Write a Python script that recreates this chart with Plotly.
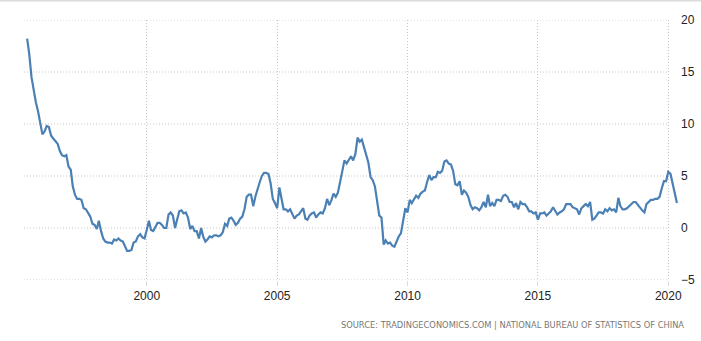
import plotly.graph_objects as go
import pandas as pd

# China consumer price inflation, year-on-year %, monthly from June 1995
start_month = "1995-06-01"
cpi_yoy = [
    # 1995 (Jun-Dec)
    18.2, 16.7, 14.5, 13.2, 12.1, 11.2, 10.1,
    # 1996
    9.0, 9.3, 9.8, 9.7, 8.9, 8.6, 8.3, 8.1, 7.4, 7.0, 6.9, 7.0,
    # 1997
    5.9, 5.6, 4.0, 3.2, 2.8, 2.8, 2.7, 1.9, 1.8, 1.5, 1.1, 0.4,
    # 1998
    0.3, -0.1, 0.7, -0.3, -1.0, -1.3, -1.4, -1.4, -1.5, -1.1, -1.2, -1.0,
    # 1999
    -1.2, -1.3, -1.8, -2.2, -2.2, -2.1, -1.4, -1.3, -0.8, -0.6, -0.9, -1.0,
    # 2000
    -0.2, 0.7, -0.2, -0.3, 0.1, 0.5, 0.5, 0.3, 0.0, 0.0, 1.3, 1.5,
    # 2001
    1.2, 0.0, 0.8, 1.6, 1.7, 1.4, 1.5, 1.0, -0.1, 0.2, -0.3, -0.3,
    # 2002
    -1.0, 0.0, -0.8, -1.3, -1.1, -0.8, -0.9, -0.7, -0.7, -0.8, -0.7, -0.4,
    # 2003
    0.4, 0.2, 0.9, 1.0, 0.7, 0.3, 0.5, 0.9, 1.1, 1.8, 3.0, 3.2,
    # 2004
    3.2, 2.1, 3.0, 3.8, 4.4, 5.0, 5.3, 5.3, 5.2, 4.3, 2.8, 2.4,
    # 2005
    1.9, 3.9, 2.7, 1.8, 1.8, 1.6, 1.8, 1.3, 0.9, 1.2, 1.3, 1.6,
    # 2006
    1.9, 0.9, 0.8, 1.2, 1.4, 1.5, 1.0, 1.3, 1.5, 1.4, 1.9, 2.8,
    # 2007
    2.2, 2.7, 3.3, 3.0, 3.4, 4.4, 5.6, 6.5, 6.2, 6.5, 6.9, 6.5,
    # 2008
    7.1, 8.7, 8.3, 8.5, 7.7, 7.1, 6.3, 4.9, 4.6, 4.0, 2.4, 1.2,
    # 2009
    1.0, -1.6, -1.2, -1.5, -1.4, -1.7, -1.8, -1.2, -0.8, -0.5, 0.6, 1.9,
    # 2010
    1.5, 2.7, 2.4, 2.8, 3.1, 2.9, 3.3, 3.5, 3.6, 4.4, 5.1, 4.6,
    # 2011
    4.9, 4.9, 5.4, 5.3, 5.5, 6.4, 6.5, 6.2, 6.1, 5.5, 4.2, 4.1,
    # 2012
    4.5, 3.2, 3.6, 3.4, 3.0, 2.2, 1.8, 2.0, 1.9, 1.7, 2.0, 2.5,
    # 2013
    2.0, 3.2, 2.1, 2.4, 2.1, 2.7, 2.7, 2.6, 3.1, 3.2, 3.0, 2.5,
    # 2014
    2.5, 2.0, 2.4, 1.8, 2.5, 2.3, 2.3, 2.0, 1.6, 1.6, 1.4, 1.5,
    # 2015
    0.8, 1.4, 1.4, 1.5, 1.2, 1.4, 1.6, 2.0, 1.6, 1.3, 1.5, 1.6,
    # 2016
    1.8, 2.3, 2.3, 2.3, 2.0, 1.9, 1.8, 1.3, 1.9, 2.1, 2.3, 2.1,
    # 2017
    2.5, 0.8, 0.9, 1.2, 1.5, 1.5, 1.4, 1.8, 1.6, 1.9, 1.7, 1.8,
    # 2018
    1.5, 2.9, 2.1, 1.8, 1.8, 1.9, 2.1, 2.3, 2.5, 2.5, 2.2, 1.9,
    # 2019
    1.7, 1.5, 2.3, 2.5, 2.7, 2.7, 2.8, 2.8, 3.0, 3.8, 4.5, 4.5,
    # 2020 (Jan-May)
    5.4, 5.2, 4.3, 3.3, 2.4,
]
months = pd.date_range(start_month, periods=len(cpi_yoy), freq="MS")

x_tick_vals = ["2000-01-01", "2005-01-01", "2010-01-01", "2015-01-01", "2020-01-01"]
x_tick_text = ["2000", "2005", "2010", "2015", "2020"]
y_tick_vals = [-5, 0, 5, 10, 15, 20]
x_range = ["1995-04-18", "2020-06-13"]

source_text = "SOURCE: TRADINGECONOMICS.COM | NATIONAL BUREAU OF STATISTICS OF CHINA"

line_color = "#4a80b4"
grid_color = "#c8c8c8"
label_font = dict(family="Liberation Sans, Arial, sans-serif", size=12, color="#222222")

fig = go.Figure()
fig.add_trace(go.Scatter(
    x=months, y=cpi_yoy, mode="lines",
    line=dict(color=line_color, width=2.2, shape="linear"),
    hoverinfo="x+y", showlegend=False,
))

# horizontal dotted grid, stopping at the last year gridline
for v in y_tick_vals:
    fig.add_shape(
        type="line", xref="x", yref="y",
        x0=x_range[0], x1=x_tick_vals[-1], y0=v, y1=v,
        line=dict(color=grid_color, width=1, dash="1px,2px"),
        layer="below",
    )

# thin frame line along the top of the chart
fig.add_shape(
    type="line", xref="paper", yref="paper",
    x0=-0.1, x1=1.1, y0=1 + 19.5 / 260, y1=1 + 19.5 / 260,
    line=dict(color="#dcdcdc", width=2),
)

fig.add_annotation(
    text=source_text, xref="paper", yref="paper",
    x=1 + 6 / 656, y=-45 / 260, xanchor="right", yanchor="middle",
    showarrow=False,
    font=dict(family="DejaVu Sans, sans-serif", size=8.3, color="#777777"),
)

fig.update_layout(
    width=701, height=341,
    margin=dict(l=24, r=21, t=20, b=61, autoexpand=False),
    paper_bgcolor="white", plot_bgcolor="white",
    xaxis=dict(
        type="date", range=x_range, automargin=False,
        tickvals=x_tick_vals, ticktext=x_tick_text,
        showgrid=True, gridcolor=grid_color, griddash="1px,2px", gridwidth=1,
        ticks="outside", ticklen=5, tickcolor="#dddddd", tickwidth=1,
        showline=False, zeroline=False,
        tickfont=label_font,
    ),
    yaxis=dict(
        range=[-5, 20], side="right", automargin=False,
        tickvals=y_tick_vals,
        showgrid=False, zeroline=False, showline=False,
        ticks="", tickfont=label_font,
    ),
)

fig.write_html("out.html")
